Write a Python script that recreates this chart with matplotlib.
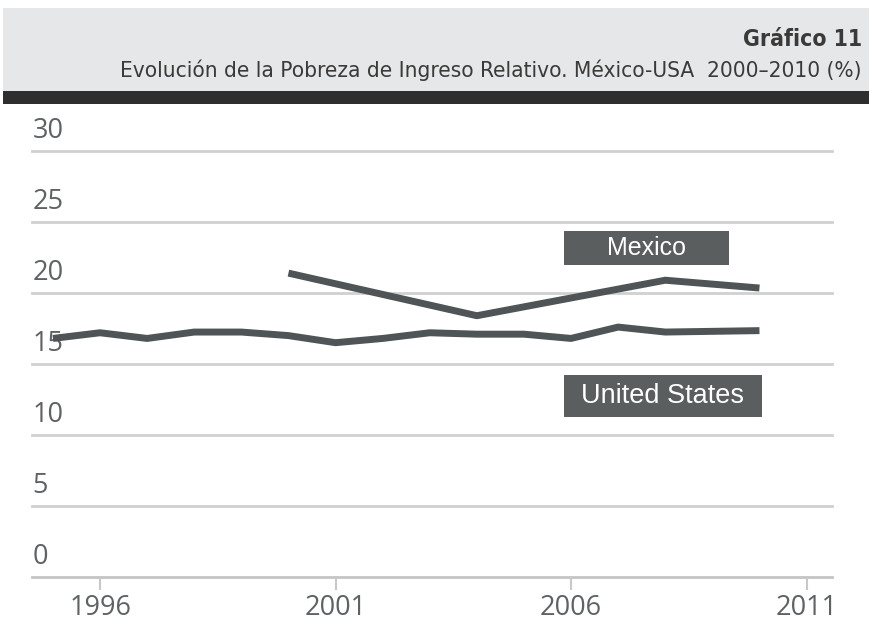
import matplotlib
matplotlib.use('Agg')
from matplotlib import pyplot as plt
from matplotlib.patches import Rectangle
from matplotlib import font_manager as fm

# data
us_years = [1995, 1996, 1997, 1998, 1999, 2000, 2001, 2002, 2003, 2004, 2005, 2006, 2007, 2008, 2009, 2010]
us_values = [16.8, 17.2, 16.8, 17.25, 17.25, 17.0, 16.5, 16.8, 17.2, 17.1, 17.1, 16.8, 17.6, 17.25, 17.3, 17.35]

mx_years = [2000, 2004, 2008, 2010]
mx_values = [21.4, 18.4, 20.9, 20.35]

x_ticks = [1996, 2001, 2006, 2011]
y_ticks = [0, 5, 10, 15, 20, 25, 30]

title = 'Gráfico 11'
subtitle = 'Evolución de la Pobreza de Ingreso Relativo. México-USA  2000\u20132010 (%)'

W, H = 870, 642
line_col = '#4f5456'
grid_col = '#d0d0d0'
text_col = '#5e6265'
box_col = '#5a5e5f'

# a narrow face for the header if one is there
narrow = 'DejaVu Sans'
stretch = 'condensed'
for f in fm.fontManager.ttflist:
    if f.name == 'Liberation Sans Narrow':
        narrow, stretch = f.name, 'normal'
        break

fig = plt.figure(figsize=(W / 100, H / 100), dpi=100)

# header band
hdr = fig.add_axes([0, 0, 1, 1], zorder=0)
hdr.set_xlim(0, W)
hdr.set_ylim(H, 0)
hdr.axis('off')
hdr.add_patch(Rectangle((3, 8), W - 3, 84, color='#e6e7e8', lw=0))
hdr.add_patch(Rectangle((3, 91), W - 3, 13, color='#2e2e2e', lw=0))
hdr.text(862, 39, title, ha='right', va='center', fontsize=16.5, fontweight='bold',
         color='#3a3a3a', family=narrow, fontstretch=stretch)
hdr.text(862, 70, subtitle, ha='right', va='center', fontsize=16.2,
         color='#3a3a3a', family=narrow, fontstretch=stretch)

# plot area: 0 at y=577px, 30 at y=151px; x from 32px to 832px
ax = fig.add_axes([32 / W, (H - 577) / H, 800 / W, 426 / H], zorder=1)
ax.set_xlim(1994.556, 2011.54)
ax.set_ylim(0, 30)
ax.patch.set_alpha(0)
for s in ax.spines.values():
    s.set_visible(False)

for v in y_ticks:
    ax.axhline(v, color='#c4c4c4' if v == 0 else grid_col, lw=2, zorder=1, clip_on=False)
    ax.text(0.001, v + 0.4, str(v), transform=ax.get_yaxis_transform(),
            ha='left', va='bottom', fontsize=19.5, color=text_col, family='Open Sans')
ax.set_yticks([])

ax.set_xticks(x_ticks)
ax.set_xticklabels([str(x) for x in x_ticks], fontsize=19.5, color=text_col, family='Open Sans')
ax.tick_params(axis='x', length=9, width=1.5, color='#c8c8c8', pad=3)

ax.plot(us_years, us_values, color=line_col, lw=5, solid_capstyle='butt', zorder=3)
ax.plot(mx_years, mx_values, color=line_col, lw=5, solid_capstyle='butt', zorder=3)

# series labels (boxes)
ax.add_patch(Rectangle((2005.85, 21.97), 3.5, 2.4, color=box_col, lw=0, zorder=4))
ax.text(2005.85 + 1.75, 21.97 + 1.2, 'Mexico', ha='center', va='center', color='white',
        fontsize=18, family='Liberation Sans', zorder=5)
ax.add_patch(Rectangle((2005.85, 11.27), 4.2, 2.96, color=box_col, lw=0, zorder=4))
ax.text(2005.85 + 2.1, 11.27 + 1.48, 'United States', ha='center', va='center', color='white',
        fontsize=19.5, family='Liberation Sans', zorder=5)

fig.savefig('out.png', dpi=100)
